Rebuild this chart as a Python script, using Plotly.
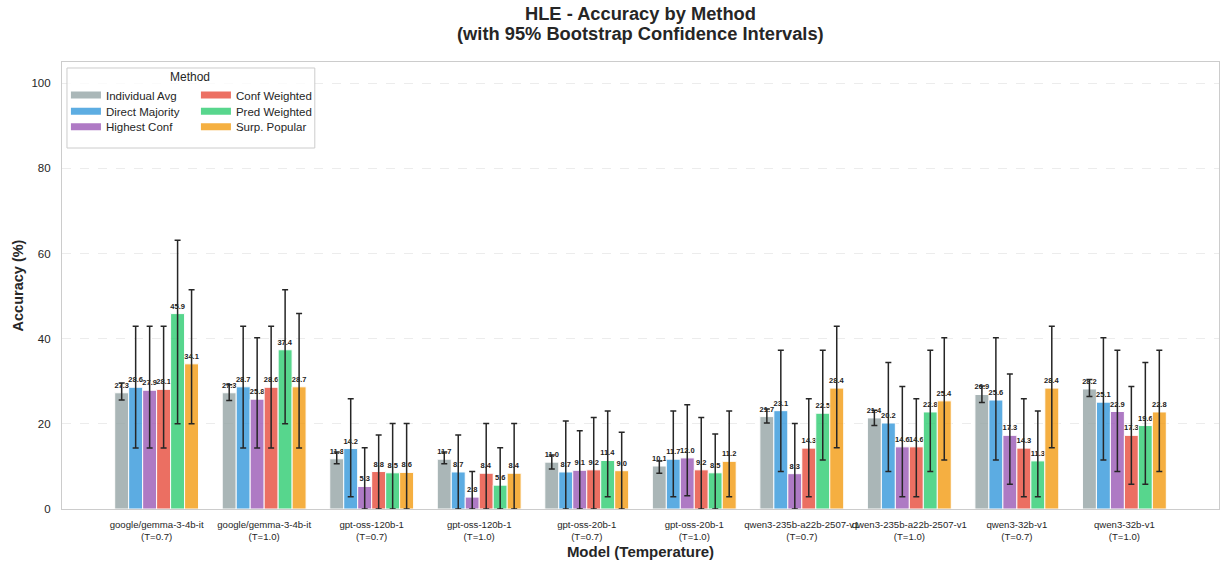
import plotly.graph_objects as go

models = ["google/gemma-3-4b-it", "google/gemma-3-4b-it", "gpt-oss-120b-1", "gpt-oss-120b-1",
          "gpt-oss-20b-1", "gpt-oss-20b-1", "qwen3-235b-a22b-2507-v1", "qwen3-235b-a22b-2507-v1",
          "qwen3-32b-v1", "qwen3-32b-v1"]
temps = ["0.7", "1.0", "0.7", "1.0", "0.7", "1.0", "0.7", "1.0", "0.7", "1.0"]

methods = ["Individual Avg", "Direct Majority", "Highest Conf", "Conf Weighted", "Pred Weighted", "Surp. Popular"]
colors = ["#95a5a6", "#3498db", "#9b59b6", "#e74c3c", "#2ecc71", "#f39c12"]

individual_avg = [27.3, 27.3, 11.8, 11.7, 11.0, 10.1, 21.7, 21.4, 26.9, 28.2]
direct_majority = [28.6, 28.7, 14.2, 8.7, 8.7, 11.7, 23.1, 20.2, 25.6, 25.1]
highest_conf = [27.9, 25.8, 5.3, 2.8, 9.1, 12.0, 8.3, 14.6, 17.3, 22.9]
conf_weighted = [28.1, 28.6, 8.8, 8.4, 9.2, 9.2, 14.3, 14.6, 14.3, 17.3]
pred_weighted = [45.9, 37.4, 8.5, 5.6, 11.4, 8.5, 22.5, 22.8, 11.3, 19.6]
surp_popular = [34.1, 28.7, 8.6, 8.4, 9.0, 11.2, 28.4, 25.4, 28.4, 22.8]

ia_lo = [25.6, 25.5, 10.6, 10.6, 9.4, 8.4, 20.2, 19.6, 25.0, 26.4]
ia_hi = [29.6, 29.2, 13.4, 13.4, 12.7, 11.3, 23.5, 23.2, 28.9, 30.4]
dm_lo = [14.3, 14.3, 2.9, 0.0, 0.0, 2.9, 8.8, 8.8, 11.5, 11.5]
dm_hi = [42.9, 42.9, 25.9, 17.4, 20.7, 23.0, 37.3, 34.4, 40.2, 40.2]
hc_lo = [14.3, 14.3, 0.0, 0.0, 0.0, 3.1, 0.0, 2.9, 5.8, 8.8]
hc_hi = [42.9, 40.2, 14.4, 8.8, 18.4, 24.5, 20.1, 28.8, 31.7, 37.3]
cw_lo = [14.3, 14.3, 0.0, 0.0, 0.0, 0.0, 2.9, 2.9, 2.9, 5.8]
cw_hi = [42.9, 42.9, 17.4, 20.1, 21.5, 21.5, 25.9, 25.9, 25.9, 28.8]
pw_lo = [20.0, 20.0, 0.0, 0.0, 2.9, 0.0, 11.5, 8.8, 2.9, 5.8]
pw_hi = [63.1, 51.5, 20.1, 14.4, 23.0, 17.6, 37.3, 37.3, 23.0, 34.4]
sp_lo = [20.0, 14.3, 0.0, 0.0, 0.0, 2.9, 14.4, 11.5, 14.4, 8.8]
sp_hi = [51.5, 45.9, 20.1, 20.1, 18.0, 23.0, 42.9, 40.2, 42.9, 37.3]

series = [individual_avg, direct_majority, highest_conf, conf_weighted, pred_weighted, surp_popular]
lows = [ia_lo, dm_lo, hc_lo, cw_lo, pw_lo, sp_lo]
highs = [ia_hi, dm_hi, hc_hi, cw_hi, pw_hi, sp_hi]

FONT = "Liberation Sans, Arial, Helvetica, sans-serif"
bar_w = 0.13
n_methods = len(methods)

fig = go.Figure()
for i, (name, col, vals, lo, hi) in enumerate(zip(methods, colors, series, lows, highs)):
    xs = [g + (i - (n_methods - 1) / 2) * bar_w for g in range(len(models))]
    fig.add_trace(go.Bar(
        x=xs, y=vals, width=bar_w, name=name, showlegend=False,
        marker=dict(color=col, opacity=0.8, line=dict(color="white", width=1)),
        error_y=dict(type="data", symmetric=False,
                     array=[h - v for h, v in zip(hi, vals)],
                     arrayminus=[v - l for v, l in zip(vals, lo)],
                     color="#262626", thickness=1.5, width=3),
        text=[f"{v:.1f}" for v in vals], textposition="outside",
        textfont=dict(family=FONT, size=7.5, color="#222222", weight="bold"),
        constraintext="none", cliponaxis=False,
    ))

# legend: three one-row legends, two columns each (column-major order like the reference)
legend_ids = ["legend", "legend2", "legend3"]
for i, (name, col) in enumerate(zip(methods, colors)):
    fig.add_trace(go.Scatter(
        x=[None], y=[None], mode="lines", name=name,
        line=dict(color=col, width=7), opacity=0.8,
        legend=legend_ids[i % 3],
    ))

legend_common = dict(bgcolor="rgba(0,0,0,0)", borderwidth=0, orientation="h",
                     font=dict(family=FONT, size=11.5, color="#262626"),
                     xanchor="left", yanchor="middle", itemwidth=30,
                     entrywidth=85, entrywidthmode="pixels")
row_y = [0.926, 0.890, 0.855]

fig.update_layout(
    width=1220, height=563,
    margin=dict(l=62, r=1, t=62, b=54, autoexpand=False),
    paper_bgcolor="white", plot_bgcolor="white",
    font=dict(family=FONT, color="#262626"),
    barmode="overlay",
    xaxis=dict(range=[-0.88, 9.88], tickmode="array", tickvals=list(range(len(models))),
               ticktext=[f"{m}<br>(T={t})" for m, t in zip(models, temps)],
               tickangle=0, automargin=False, ticklabelstandoff=6,
               tickfont=dict(family=FONT, size=9.6, color="#262626"),
               showgrid=False, zeroline=False, showline=True, linecolor="#cccccc",
               linewidth=1.2, mirror=True, ticks="",
               title=dict(text="<b>Model (Temperature)</b>", font=dict(family=FONT, size=15), standoff=5)),
    yaxis=dict(range=[0, 105], tickvals=[0, 20, 40, 60, 80, 100], automargin=False,
               tickfont=dict(family=FONT, size=11.5, color="#262626"),
               showgrid=True, gridcolor="#ececec", griddash="dash", gridwidth=0.8,
               zeroline=False, showline=True, linecolor="#cccccc", linewidth=1.2, mirror=True,
               ticks="", ticklabelstandoff=8,
               title=dict(text="<b>Accuracy (%)</b>", font=dict(family=FONT, size=14.5), standoff=4)),
    legend=dict(x=0.0034, y=row_y[0], **legend_common),
    legend2=dict(x=0.0034, y=row_y[1], **legend_common),
    legend3=dict(x=0.0034, y=row_y[2], **legend_common),
    shapes=[dict(type="rect", xref="paper", yref="paper",
                 x0=0.0043, x1=0.2185, y0=0.8076, y1=0.9866,
                 line=dict(color="#cccccc", width=1), fillcolor="rgba(255,255,255,0.8)", layer="above")],
    annotations=[
        dict(text="Method", xref="paper", yref="paper", x=0.111, y=0.966,
             xanchor="center", yanchor="middle", showarrow=False,
             font=dict(family=FONT, size=12, color="#262626")),
        dict(text="<b>HLE - Accuracy by Method</b>",
             xref="paper", yref="paper", x=0.5, y=1.1085, xanchor="center", yanchor="middle",
             showarrow=False, font=dict(family=FONT, size=18.3, color="#262626")),
        dict(text="<b>(with 95% Bootstrap Confidence Intervals)</b>",
             xref="paper", yref="paper", x=0.5, y=1.0638, xanchor="center", yanchor="middle",
             showarrow=False, font=dict(family=FONT, size=18.3, color="#262626")),
    ],
)

fig.write_html("out.html", config={"displayModeBar": False},
               post_script="document.body.style.margin='0';")
